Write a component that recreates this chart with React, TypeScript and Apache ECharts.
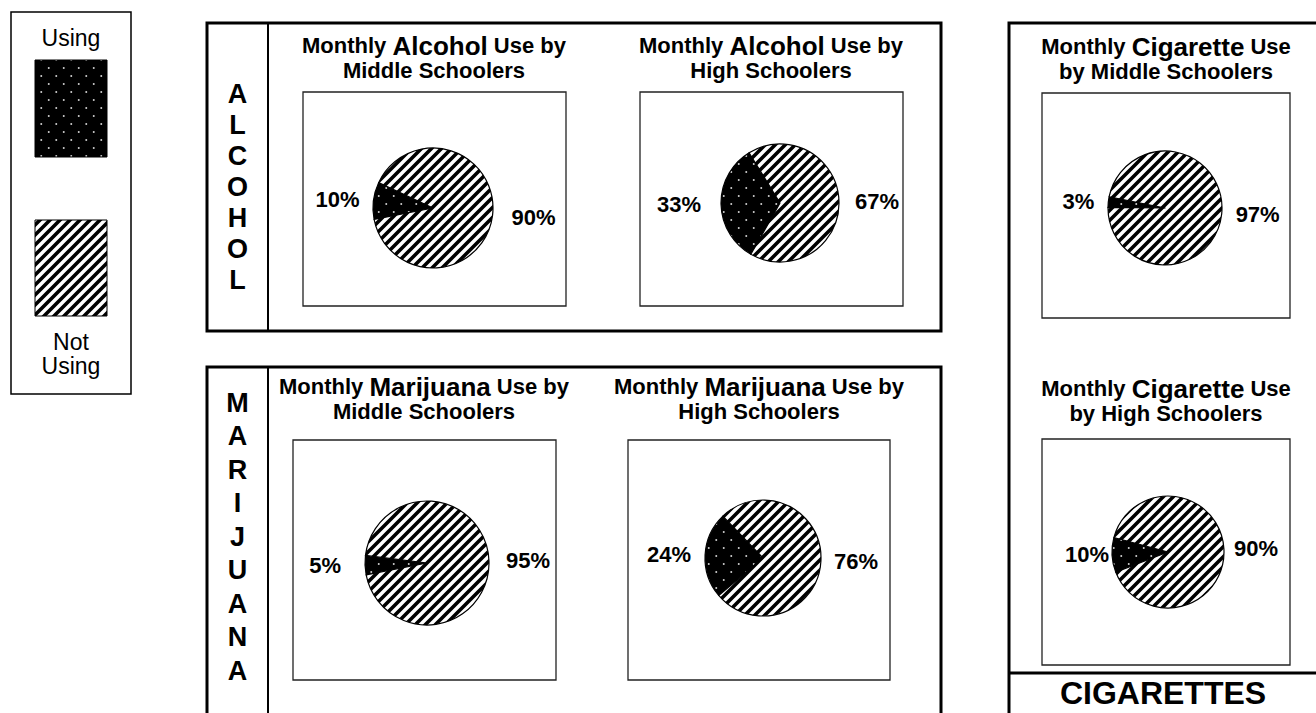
import React, { useEffect, useRef } from 'react';
import * as echarts from 'echarts';

// ---------- data ----------
const categories = ['Using', 'Not Using'];
const groups = ['Middle Schoolers', 'High Schoolers'];
const substances = ['Alcohol', 'Marijuana', 'Cigarette'];
const sectionLabels = ['ALCOHOL', 'MARIJUANA', 'CIGARETTES'];
const alcoholUsing = [10, 33];
const alcoholNotUsing = [90, 67];
const marijuanaUsing = [5, 24];
const marijuanaNotUsing = [95, 76];
const cigaretteUsing = [3, 10];
const cigaretteNotUsing = [97, 90];

const usingBy = [alcoholUsing, marijuanaUsing, cigaretteUsing];
const notUsingBy = [alcoholNotUsing, marijuanaNotUsing, cigaretteNotUsing];

// ---------- style / layout ----------
const FONT = '"Liberation Sans", Arial, Helvetica, sans-serif';

type Panel = {
  s: number; g: number;
  frame: [number, number, number, number];
  cx: number; cy: number; r: number; mid: number;
  tx: number; ty: number; wrapUse: boolean;
  gaps: [number, number];
};

const panels: Panel[] = [
  { s: 0, g: 0, frame: [303, 92, 263, 214], cx: 433, cy: 208, r: 60, mid: 173, tx: 434, ty: 33, wrapUse: false, gaps: [14, 19] },
  { s: 0, g: 1, frame: [640, 92, 263, 214], cx: 780, cy: 203, r: 59, mid: 181, tx: 771, ty: 33, wrapUse: false, gaps: [20, 16] },
  { s: 1, g: 0, frame: [293, 440, 263, 240], cx: 427, cy: 563, r: 62, mid: 182, tx: 424, ty: 374, wrapUse: false, gaps: [24, 17] },
  { s: 1, g: 1, frame: [628, 440, 262, 240], cx: 763, cy: 558, r: 58, mid: 177, tx: 759, ty: 374, wrapUse: false, gaps: [14, 13] },
  { s: 2, g: 0, frame: [1042, 93, 248, 225], cx: 1165, cy: 208, r: 57, mid: 174, tx: 1166, ty: 34, wrapUse: true, gaps: [14, 14] },
  { s: 2, g: 1, frame: [1042, 439, 248, 226], cx: 1168, cy: 552, r: 56, mid: 183, tx: 1166, ty: 376, wrapUse: true, gaps: [3, 10] },
];

const svgUrl = (svg: string) => 'data:image/svg+xml;charset=utf-8,' + encodeURIComponent(svg);

const stripeSvg =
  "<svg xmlns='http://www.w3.org/2000/svg' width='10' height='10'>" +
  "<rect width='10' height='10' fill='white'/>" +
  "<path d='M-2,2 L2,-2 M-1,11 L11,-1 M8,12 L12,8' stroke='black' stroke-width='3.6' fill='none'/>" +
  '</svg>';
const dotsSvg =
  "<svg xmlns='http://www.w3.org/2000/svg' width='15' height='16'>" +
  "<rect width='15' height='16' fill='black'/>" +
  "<circle cx='3.75' cy='4' r='1' fill='#d0d0d0'/>" +
  "<circle cx='11.25' cy='12' r='1' fill='#d0d0d0'/>" +
  '</svg>';

const stripePattern: any = { image: svgUrl(stripeSvg), repeat: 'repeat', imageWidth: 10, imageHeight: 10 };
const dotsPattern: any = { image: svgUrl(dotsSvg), repeat: 'repeat', imageWidth: 15, imageHeight: 16 };

const textEl = (x: number, y: number, text: string, size: number, weight: string, lineHeight?: number) => ({
  type: 'text',
  x,
  y,
  silent: true,
  style: {
    text,
    fontFamily: FONT,
    fontSize: size,
    fontWeight: weight,
    fill: '#000',
    align: 'center',
    textAlign: 'center',
    verticalAlign: 'top',
    textVerticalAlign: 'top',
    lineHeight: lineHeight || size,
  },
});

const rectEl = (x: number, y: number, w: number, h: number, lw: number, fill: any = 'none', stroke = '#000') => ({
  type: 'rect',
  silent: true,
  shape: { x, y, width: w, height: h },
  style: { fill, stroke, lineWidth: lw },
});

const lineEl = (x1: number, y1: number, x2: number, y2: number, lw: number) => ({
  type: 'line',
  silent: true,
  shape: { x1, y1, x2, y2 },
  style: { stroke: '#000', lineWidth: lw },
});

const vertical = (s: string) => s.split('').join('\n');

const labelFor = (gap: number) => ({
  label: { distanceToLabelLine: Math.min(5, gap) },
  labelLine: { show: false, length: Math.max(gap - 5, 0), length2: 0 },
});

function buildOption() {
  const titleRich = {
    s: { fontFamily: FONT, fontSize: 22, fontWeight: 'bold', color: '#000', lineHeight: 25 },
    b: { fontFamily: FONT, fontSize: 26, fontWeight: 'bold', color: '#000', lineHeight: 25 },
  };

  const titles = panels.map((p) => {
    const sub = substances[p.s];
    const grp = groups[p.g];
    const text = p.wrapUse
      ? `{s|Monthly }{b|${sub}}{s| Use}\n{s|by ${grp}}`
      : `{s|Monthly }{b|${sub}}{s| Use by}\n{s|${grp}}`;
    return {
      text,
      left: p.tx,
      top: p.ty,
      textAlign: 'center',
      padding: 0,
      textStyle: { rich: titleRich },
    };
  });

  const series = panels.map((p) => {
    const u = usingBy[p.s][p.g];
    const n = notUsingBy[p.s][p.g];
    return {
      type: 'pie',
      silent: true,
      center: [p.cx, p.cy],
      radius: p.r,
      clockwise: true,
      startAngle: p.mid + u * 1.8,
      avoidLabelOverlap: false,
      label: {
        show: true,
        position: 'outside',
        formatter: '{c}%',
        fontFamily: FONT,
        fontWeight: 'bold',
        fontSize: 22,
        color: '#000',
      },
      labelLine: { show: false, length: 8, length2: 0 },
      itemStyle: { borderColor: '#000', borderWidth: 1.2 },
      emphasis: { disabled: true },
      data: [
        { name: categories[0], value: u, itemStyle: { color: dotsPattern }, ...labelFor(p.gaps[0]) },
        { name: categories[1], value: n, itemStyle: { color: stripePattern }, ...labelFor(p.gaps[1]) },
      ],
    };
  });

  const graphics: any[] = [
    // legend
    rectEl(11, 12, 120, 382, 1.5),
    textEl(71, 26, categories[0], 23, 'normal'),
    rectEl(35, 60, 72, 97, 1, dotsPattern),
    rectEl(35, 220, 72, 96, 1, stripePattern),
    textEl(71, 330, categories[1].replace(' ', '\n'), 23, 'normal', 24),
    // alcohol box
    rectEl(207, 23, 734, 308, 3),
    lineEl(268, 23, 268, 331, 2),
    textEl(237.5, 78.5, vertical(sectionLabels[0]), 27, 'bold', 31),
    // marijuana box
    rectEl(207, 367, 734, 420, 3),
    lineEl(268, 367, 268, 713, 2),
    textEl(237.5, 386, vertical(sectionLabels[1]), 27, 'bold', 33.5),
    // cigarette box
    rectEl(1009, 23, 420, 800, 3),
    lineEl(1009, 673, 1316, 673, 3),
    textEl(1163, 677, sectionLabels[2], 32, 'bold', 32),
    // pie frames
    ...panels.map((p) => rectEl(p.frame[0], p.frame[1], p.frame[2], p.frame[3], 1.3, 'none', '#222')),
  ];

  return {
    animation: false,
    backgroundColor: '#fff',
    title: titles,
    series,
    graphic: { elements: graphics },
  };
}

export default function App() {
  const ref = useRef<HTMLDivElement>(null);
  useEffect(() => {
    if (!ref.current) return;
    const chart = echarts.init(ref.current, undefined, { renderer: 'svg' });
    chart.setOption(buildOption() as any);
    return () => chart.dispose();
  }, []);
  return (
    <div
      ref={ref}
      style={{ position: 'absolute', left: 0, top: 0, width: 1316, height: 713, background: '#fff' }}
    />
  );
}
